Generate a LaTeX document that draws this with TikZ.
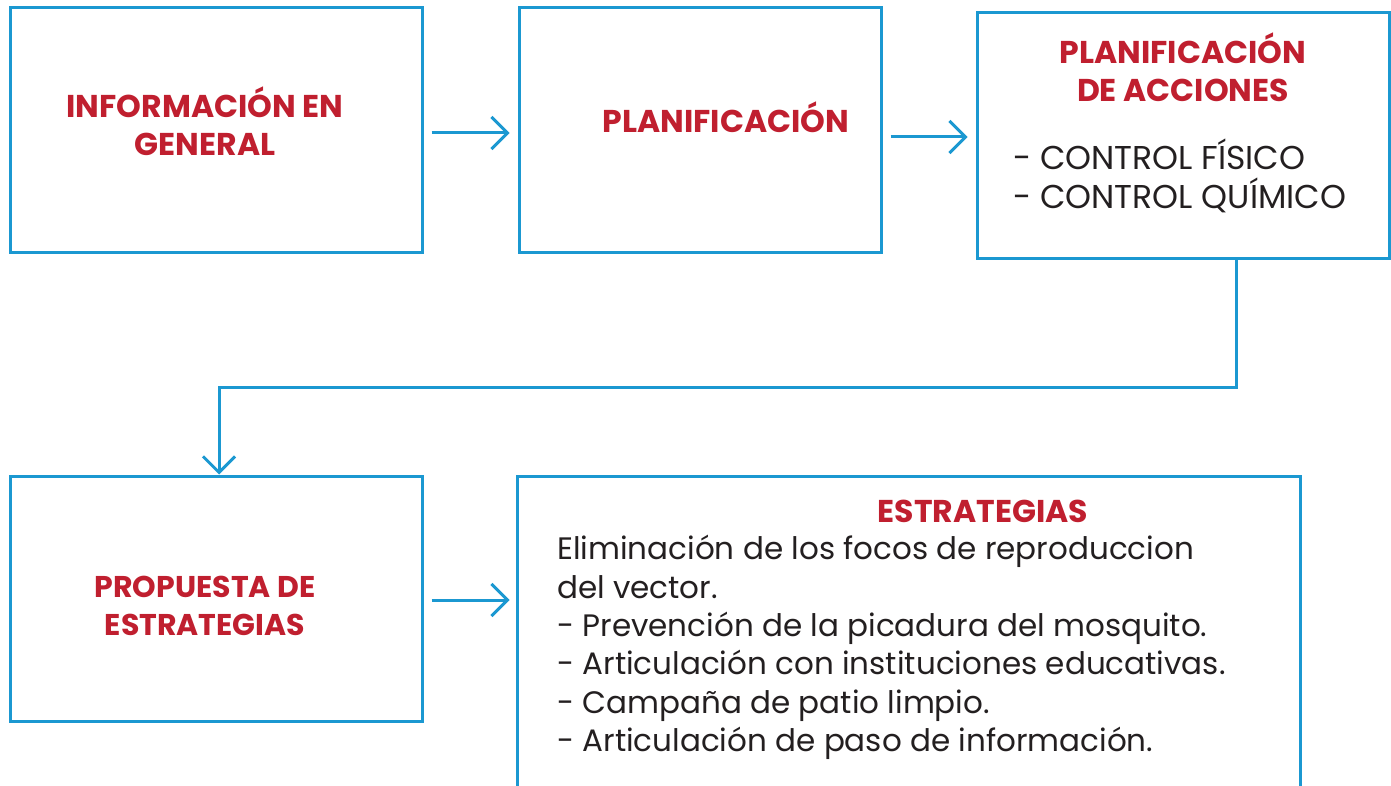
\documentclass[tikz,border=0pt]{standalone}
\usepackage{fontspec}
\setmainfont{Poppins}
\usetikzlibrary{arrows.meta,calc}
\definecolor{bblue}{HTML}{1B98D1}
\definecolor{tred}{HTML}{C01F2F}
\definecolor{tdark}{HTML}{231F20}
\tikzset{
  box/.style={draw=bblue,line width=3pt,inner sep=0pt},
  conn/.style={draw=bblue,line width=3pt,-{Straight Barb[length=16pt,width=32pt,line width=3pt]}},
  ttl/.style={text=tred,font=\fontsize{31.5}{38}\selectfont\bfseries,align=center,inner sep=0pt},
  body/.style={text=tdark,font=\fontsize{31}{38.4}\selectfont,align=left,inner sep=0pt,anchor=north west},
}
\begin{document}
\begin{tikzpicture}[x=1pt,y=-1pt]
\useasboundingbox[fill=white] (0,0) rectangle (1391,786);
\node[box,minimum width=412pt,minimum height=245pt] (b1) at (216,130.5) {};
\node[box,minimum width=362pt,minimum height=245pt] (b2) at (700,130.5) {};
\node[box,minimum width=412pt,minimum height=246pt] (b3) at (1183,136) {};
\node[box,minimum width=412pt,minimum height=245pt] (b4) at (216,598.5) {};
\node[box,minimum width=783pt,minimum height=320pt] (b5) at (908.5,636) {};

\node[ttl] (t1) at (205,121) {INFORMACIÓN EN\\GENERAL};
\node[ttl] (t2) at (726,117) {PLANIFICACIÓN};
\node[ttl] (t3) at (1183,67.5) {PLANIFICACIÓN\\DE ACCIONES};
\node[body,font=\fontsize{33}{39}\selectfont] (c3) at (1013,139) {- CONTROL FÍSICO\\- CONTROL QUÍMICO};
\node[ttl,font=\fontsize{30}{38}\selectfont\bfseries] (t4) at (205,606) {PROPUESTA DE\\ESTRATEGIAS};
\node[ttl] (t5) at (983,511) {ESTRATEGIAS};
\node[body] (c5) at (557,535) {Eliminación de los focos de reproduccion\\del vector.\\- Prevención de la picadura del mosquito.\\- Articulación con instituciones educativas.\\- Campaña de patio limpio.\\- Articulación de paso de información.};

\draw[conn] ([xshift=8pt,yshift=-2.5pt]b1.east) -- ([xshift=-8pt,yshift=-2.5pt]b2.west);
\draw[conn] ([xshift=8pt,yshift=-6.5pt]b2.east) -- ([xshift=-8pt,yshift=-6.5pt]b2.east -| b3.west);
\draw[conn] ([xshift=53pt]b3.south) -- ++(0,127) -| ([xshift=3pt]b4.north);
\draw[conn] ([xshift=8pt,yshift=-1.5pt]b4.east) -- ([xshift=-6pt,yshift=-1.5pt]b5.west |- b4.east);
\end{tikzpicture}
\end{document}
